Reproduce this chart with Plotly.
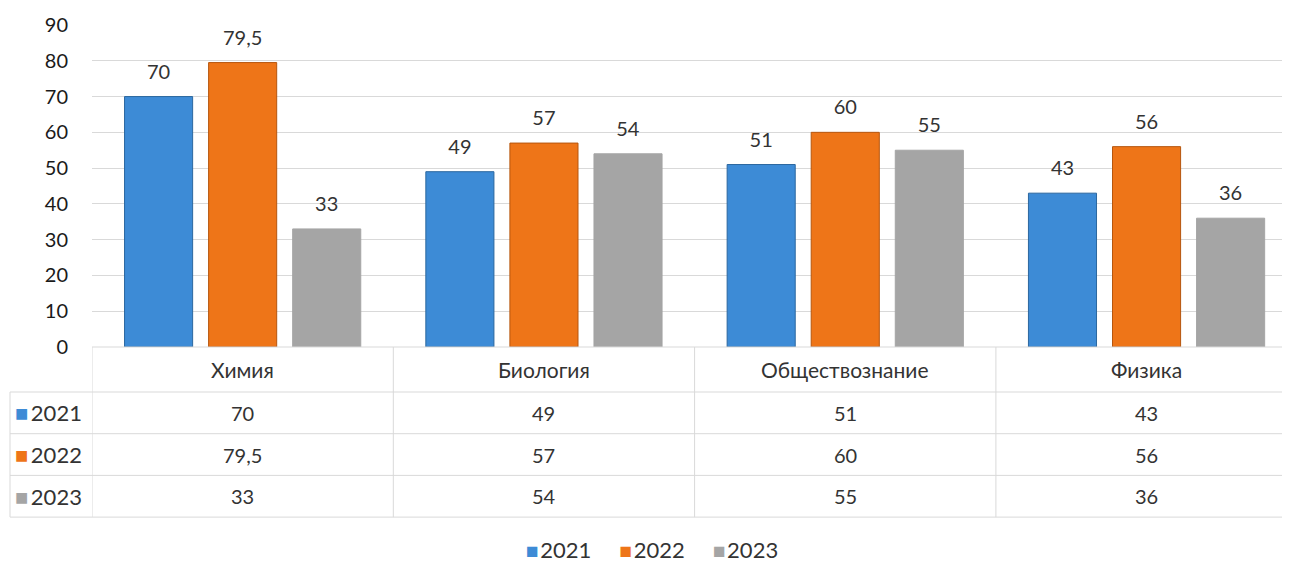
import plotly.graph_objects as go

# --- Daten ---
subjects = ["Химия", "Биология", "Обществознание", "Физика"]
years = ["2021", "2022", "2023"]
v2021 = [70, 49, 51, 43]
v2022 = [79.5, 57, 60, 56]
v2023 = [33, 54, 55, 36]

series = [v2021, v2022, v2023]
colors = ["#3D8BD6", "#EE7518", "#A5A5A5"]
edges = ["#2B679F", "#B6560E", "#A5A5A5"]

FONT = "Lato"
TXT = "#333333"

# Seite hat 8px Body-Rand -> Figur entsprechend verschoben
OFF = 8
W, H = 1290 - OFF, 560
PLOT_L, PLOT_T, PLOT_B = 92, 25, 347     # Plotbereich im Zielbild (px)
L, T = PLOT_L - OFF, PLOT_T - OFF
B = H - (PLOT_B - OFF)
PH = PLOT_B - PLOT_T
PW = W - L
CAT_W = 301.3           # Breite einer Kategorie in px


def fmt(v):
    return f"{v:g}".replace(".", ",")


def py(y):
    """Zielbild-y -> paper-y"""
    return (PLOT_B - y) / PH


def px(x):
    """Zielbild-x -> paper-x"""
    return (x - PLOT_L) / PW


def icon(col, size, gap=4):
    return (f"<span style='color:{col};font-size:{size}px'>■</span>"
            f"<span style='font-size:{gap}px'>&nbsp;</span>")


fig = go.Figure()
for name, vals, col, edge in zip(years, series, colors, edges):
    fig.add_trace(go.Bar(
        x=subjects, y=vals, name=name,
        marker=dict(color=col, line=dict(color=edge, width=1)),
        # leere zweite Zeile hebt die Beschriftung etwas an
        text=[f"<span style='font-size:20px'>{fmt(v)}</span><br> " for v in vals],
        textposition="outside", cliponaxis=False,
        textfont=dict(size=10, color=TXT, family=FONT),
        hoverinfo="skip", showlegend=False,
    ))

# Tabelle unterhalb der Achse
row_hdr = 392      # Unterkante Kopfzeile
row_h = 41.7
rows_y = [row_hdr + i * row_h for i in range(4)]
left_x = 10
GRID = "#D9D9D9"

shapes = []
# waagerechte Linien
shapes.append(dict(type="line", xref="x", yref="paper", x0=-0.5, x1=3.6,
                   y0=0, y1=0, line=dict(color=GRID, width=1)))
for yy in rows_y:
    shapes.append(dict(type="line", xref="paper", yref="paper", x0=px(left_x), x1=1.01,
                       y0=py(yy), y1=py(yy), line=dict(color=GRID, width=1)))
# senkrechte Linien
for i in range(len(subjects)):
    shapes.append(dict(type="line", xref="x", yref="paper", x0=i - 0.5, x1=i - 0.5,
                       y0=0, y1=py(rows_y[-1]), line=dict(color=GRID, width=1)))
shapes.append(dict(type="line", xref="paper", yref="paper", x0=px(left_x), x1=px(left_x),
                   y0=py(rows_y[0]), y1=py(rows_y[-1]), line=dict(color=GRID, width=1)))

ann = []
for s in subjects:
    ann.append(dict(x=s, xref="x", y=py((PLOT_B + row_hdr) / 2), yref="paper",
                    yanchor="middle", text=s, showarrow=False,
                    font=dict(size=21, color=TXT, family=FONT)))
for r, (name, vals, col) in enumerate(zip(years, series, colors)):
    yc = py(rows_y[r] + row_h / 2)
    ann.append(dict(x=px(13), xref="paper", y=yc, yref="paper", xanchor="left",
                    yanchor="middle", text=icon(col, 22, 10) + name,
                    showarrow=False, font=dict(size=22, color=TXT, family=FONT)))
    for s, v in zip(subjects, vals):
        ann.append(dict(x=s, xref="x", y=yc, yref="paper", yanchor="middle", text=fmt(v),
                        showarrow=False, font=dict(size=20, color=TXT, family=FONT)))

# Legende unten (als Text, damit die Abstände wie im Original sind)
legend_txt = ("&nbsp;" * 5).join(icon(c, 21, 6) + n for n, c in zip(years, colors))
ann.append(dict(x=px(652), xref="paper", y=py(549), yref="paper", xanchor="center",
                yanchor="middle", text=legend_txt, showarrow=False, borderpad=0,
                font=dict(size=22, color=TXT, family=FONT)))

fig.update_layout(
    width=W, height=H,
    margin=dict(l=L, r=0, t=T, b=B, autoexpand=False),
    paper_bgcolor="white", plot_bgcolor="white",
    barmode="group", bargap=0.163, bargroupgap=0.19,
    font=dict(family=FONT, color=TXT),
    showlegend=False,
    xaxis=dict(range=[-0.5, -0.5 + PW / CAT_W], showticklabels=False, automargin=False,
               showgrid=False, zeroline=False, showline=False, ticks=""),
    yaxis=dict(range=[0, 90], dtick=10, showgrid=True, gridcolor=GRID,
               gridwidth=1, zeroline=False, showline=False, automargin=False,
               tickfont=dict(size=20, color="#1A1A1A", family=FONT), ticklabelstandoff=23),
    shapes=shapes, annotations=ann,
)

fig.write_html("out.html")
